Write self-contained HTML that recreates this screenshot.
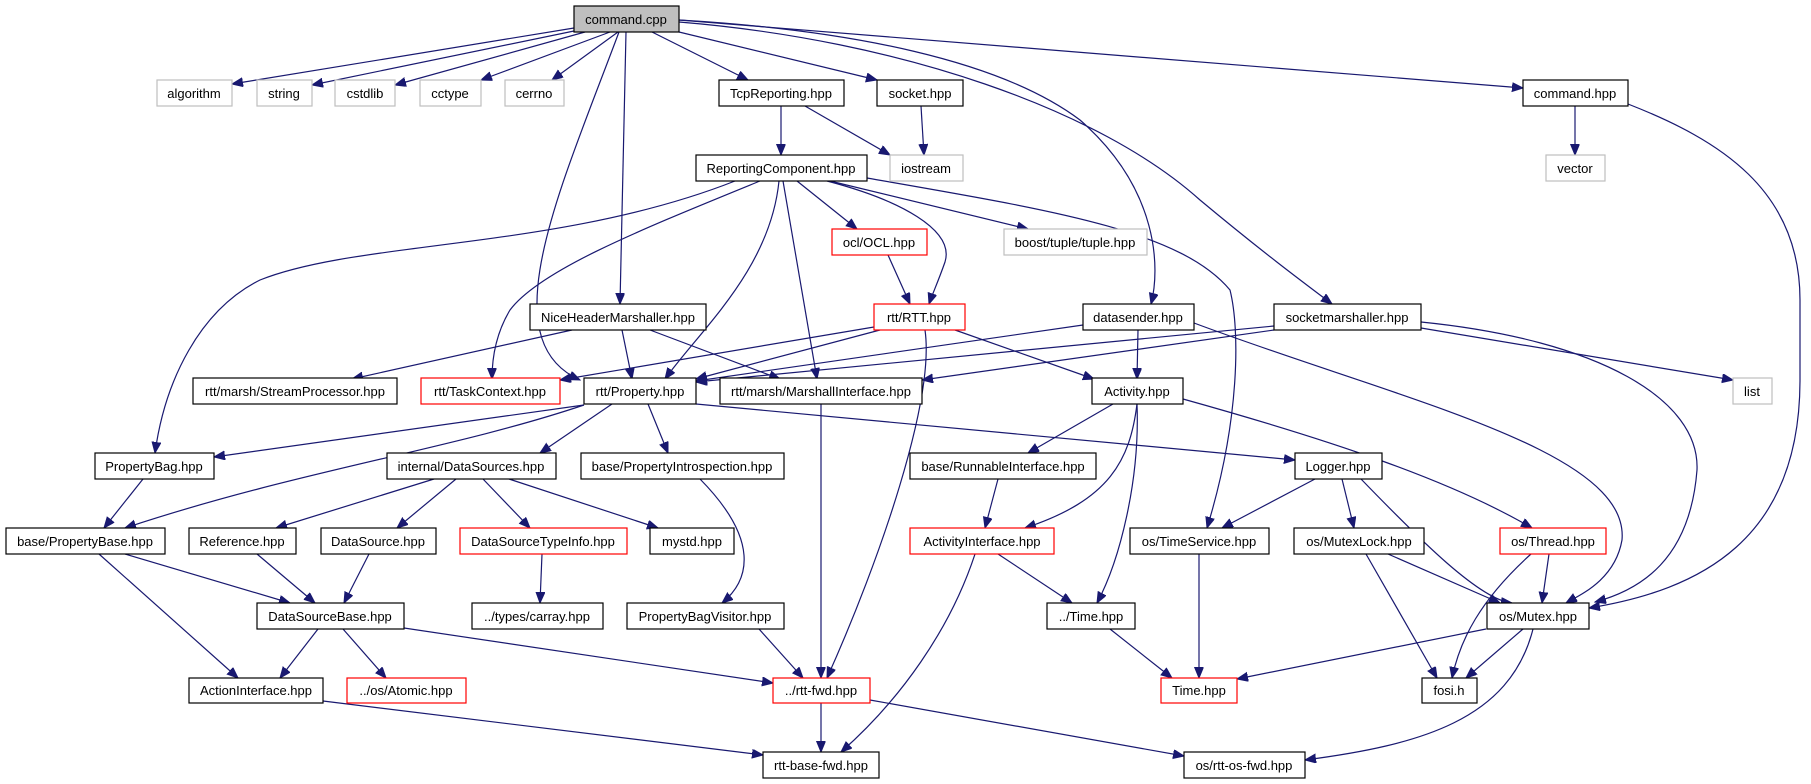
<!DOCTYPE html>
<html><head><meta charset="utf-8"><style>
html,body{margin:0;padding:0;background:#fff;}
svg{display:block;}
text{font-family:"Liberation Sans",sans-serif;font-size:13px;text-anchor:middle;fill:#000;}
.e{fill:none;stroke:#191970;stroke-width:1.2;marker-end:url(#a);}
.n{fill:#fff;stroke:#000;stroke-width:1.2;}
.g{fill:#fff;stroke:#bfbfbf;stroke-width:1.2;}
.r{fill:#fff;stroke:#ff0000;stroke-width:1.2;}
</style></head><body>
<svg width="1811" height="784" viewBox="0 0 1811 784" xmlns="http://www.w3.org/2000/svg">
<defs><marker id="a" markerUnits="userSpaceOnUse" markerWidth="12" markerHeight="10" refX="11" refY="4.5" orient="auto"><path d="M0,0 L11,4.5 L0,9 z" fill="#191970" stroke="#191970"/></marker></defs>
<g>
<path class="e" d="M574,28 L232,84"/>
<path class="e" d="M574,31 L312,85"/>
<path class="e" d="M585,32 L395,85"/>
<path class="e" d="M610,32 L481,80"/>
<path class="e" d="M618,32 L552,80"/>
<path class="e" d="M619,32 C560,190 490,340 580,380"/>
<path class="e" d="M626,32 L620,304"/>
<path class="e" d="M652,32 L748,80"/>
<path class="e" d="M679,32 L877,80"/>
<path class="e" d="M679,20 C850,30 1000,60 1080,120 C1160,190 1160,270 1151,304"/>
<path class="e" d="M679,22 C900,40 1100,110 1200,200 C1260,250 1300,280 1332,304"/>
<path class="e" d="M679,20 L1523,88"/>
<path class="e" d="M781,106 L781,155"/>
<path class="e" d="M805,106 L890,155"/>
<path class="e" d="M921,106 L924,155"/>
<path class="e" d="M1575,106 L1575,155"/>
<path class="e" d="M1628,104 C1720,140 1800,190 1800,300 L1800,380 C1800,540 1700,590 1589,608"/>
<path class="e" d="M735,181 C560,250 360,240 260,280 C200,310 165,380 155,453"/>
<path class="e" d="M760,181 C640,230 540,270 510,310 C495,335 492,360 492,379"/>
<path class="e" d="M779,181 C770,270 700,330 665,379"/>
<path class="e" d="M783,181 L817,379"/>
<path class="e" d="M797,181 L857,229"/>
<path class="e" d="M827,181 C900,200 955,230 945,262 C938,282 932,295 929,304"/>
<path class="e" d="M830,181 L1028,229"/>
<path class="e" d="M867,178 C1050,210 1180,230 1230,290 C1240,330 1240,420 1207,528"/>
<path class="e" d="M888,255 L910,304"/>
<path class="e" d="M572,330 L352,379"/>
<path class="e" d="M622,330 L632,379"/>
<path class="e" d="M650,330 L780,379"/>
<path class="e" d="M874,327 L560,380"/>
<path class="e" d="M880,330 L696,379"/>
<path class="e" d="M955,330 L1094,379"/>
<path class="e" d="M925,330 C935,400 880,560 827,678"/>
<path class="e" d="M1083,325 L696,381"/>
<path class="e" d="M1138,330 L1137,379"/>
<path class="e" d="M1194,323 C1400,400 1630,450 1622,540 C1615,580 1580,595 1566,603"/>
<path class="e" d="M1421,322 C1600,340 1700,400 1697,470 C1690,560 1640,590 1595,602"/>
<path class="e" d="M1421,328 L1733,380"/>
<path class="e" d="M1274,326 L696,382"/>
<path class="e" d="M1274,330 L922,380"/>
<path class="e" d="M1113,404 L1028,453"/>
<path class="e" d="M1137,404 C1130,460 1110,500 1025,528"/>
<path class="e" d="M1137,404 C1140,480 1120,560 1097,603"/>
<path class="e" d="M1183,399 C1330,440 1450,480 1532,528"/>
<path class="e" d="M584,405 L214,457"/>
<path class="e" d="M584,405 C450,450 300,470 125,528"/>
<path class="e" d="M612,404 L540,453"/>
<path class="e" d="M648,404 L668,453"/>
<path class="e" d="M696,404 L1295,460"/>
<path class="e" d="M821,404 L821,678"/>
<path class="e" d="M143,479 L104,528"/>
<path class="e" d="M434,479 L276,528"/>
<path class="e" d="M456,479 L397,528"/>
<path class="e" d="M483,479 L530,528"/>
<path class="e" d="M509,479 L658,528"/>
<path class="e" d="M700,479 C760,540 750,580 722,603"/>
<path class="e" d="M998,479 L985,528"/>
<path class="e" d="M1315,479 L1222,528"/>
<path class="e" d="M1342,479 L1354,528"/>
<path class="e" d="M1361,479 C1420,540 1480,600 1512,603"/>
<path class="e" d="M125,554 L290,603"/>
<path class="e" d="M99,554 L238,678"/>
<path class="e" d="M257,554 L315,603"/>
<path class="e" d="M369,554 L344,603"/>
<path class="e" d="M542,554 L540,603"/>
<path class="e" d="M998,554 L1072,603"/>
<path class="e" d="M975,554 C950,630 900,700 841,752"/>
<path class="e" d="M1199,554 L1199,678"/>
<path class="e" d="M1366,554 L1437,678"/>
<path class="e" d="M1388,554 L1500,603"/>
<path class="e" d="M1531,554 C1480,600 1460,640 1452,678"/>
<path class="e" d="M1549,554 L1542,603"/>
<path class="e" d="M318,629 L280,678"/>
<path class="e" d="M343,629 L386,678"/>
<path class="e" d="M404,628 L773,683"/>
<path class="e" d="M759,629 L803,678"/>
<path class="e" d="M1110,629 L1172,678"/>
<path class="e" d="M1486,629 L1237,679"/>
<path class="e" d="M1523,629 L1466,678"/>
<path class="e" d="M1533,629 C1510,720 1420,745 1305,760"/>
<path class="e" d="M323,701 L763,755"/>
<path class="e" d="M821,703 L821,752"/>
<path class="e" d="M870,700 L1184,756"/>
</g>
<g>
<rect x="574" y="6" width="105" height="26" fill="#bfbfbf" stroke="#000" stroke-width="1.2"/><text x="626" y="24">command.cpp</text>
<rect class="g" x="157" y="80" width="75" height="26"/><text x="194" y="98">algorithm</text>
<rect class="g" x="257" y="80" width="55" height="26"/><text x="284" y="98">string</text>
<rect class="g" x="335" y="80" width="60" height="26"/><text x="365" y="98">cstdlib</text>
<rect class="g" x="420" y="80" width="61" height="26"/><text x="450" y="98">cctype</text>
<rect class="g" x="505" y="80" width="59" height="26"/><text x="534" y="98">cerrno</text>
<rect class="n" x="719" y="80" width="125" height="26"/><text x="781" y="98">TcpReporting.hpp</text>
<rect class="n" x="877" y="80" width="86" height="26"/><text x="920" y="98">socket.hpp</text>
<rect class="n" x="1523" y="80" width="105" height="26"/><text x="1575" y="98">command.hpp</text>
<rect class="n" x="696" y="155" width="171" height="26"/><text x="781" y="173">ReportingComponent.hpp</text>
<rect class="g" x="890" y="155" width="73" height="26"/><text x="926" y="173">iostream</text>
<rect class="g" x="1546" y="155" width="59" height="26"/><text x="1575" y="173">vector</text>
<rect class="r" x="832" y="229" width="95" height="26"/><text x="879" y="247">ocl/OCL.hpp</text>
<rect class="g" x="1004" y="229" width="143" height="26"/><text x="1075" y="247">boost/tuple/tuple.hpp</text>
<rect class="n" x="530" y="304" width="176" height="26"/><text x="618" y="322">NiceHeaderMarshaller.hpp</text>
<rect class="r" x="874" y="304" width="91" height="26"/><text x="919" y="322">rtt/RTT.hpp</text>
<rect class="n" x="1083" y="304" width="111" height="26"/><text x="1138" y="322">datasender.hpp</text>
<rect class="n" x="1274" y="304" width="147" height="26"/><text x="1347" y="322">socketmarshaller.hpp</text>
<rect class="n" x="193" y="378" width="204" height="26"/><text x="295" y="396">rtt/marsh/StreamProcessor.hpp</text>
<rect class="r" x="421" y="378" width="139" height="26"/><text x="490" y="396">rtt/TaskContext.hpp</text>
<rect class="n" x="584" y="378" width="112" height="26"/><text x="640" y="396">rtt/Property.hpp</text>
<rect class="n" x="720" y="378" width="202" height="26"/><text x="821" y="396">rtt/marsh/MarshallInterface.hpp</text>
<rect class="n" x="1092" y="378" width="91" height="26"/><text x="1137" y="396">Activity.hpp</text>
<rect class="g" x="1733" y="378" width="39" height="26"/><text x="1752" y="396">list</text>
<rect class="n" x="95" y="453" width="119" height="26"/><text x="154" y="471">PropertyBag.hpp</text>
<rect class="n" x="387" y="453" width="169" height="26"/><text x="471" y="471">internal/DataSources.hpp</text>
<rect class="n" x="581" y="453" width="203" height="26"/><text x="682" y="471">base/PropertyIntrospection.hpp</text>
<rect class="n" x="910" y="453" width="186" height="26"/><text x="1003" y="471">base/RunnableInterface.hpp</text>
<rect class="n" x="1295" y="453" width="87" height="26"/><text x="1338" y="471">Logger.hpp</text>
<rect class="n" x="6" y="528" width="159" height="26"/><text x="85" y="546">base/PropertyBase.hpp</text>
<rect class="n" x="189" y="528" width="107" height="26"/><text x="242" y="546">Reference.hpp</text>
<rect class="n" x="321" y="528" width="115" height="26"/><text x="378" y="546">DataSource.hpp</text>
<rect class="r" x="460" y="528" width="167" height="26"/><text x="543" y="546">DataSourceTypeInfo.hpp</text>
<rect class="n" x="650" y="528" width="84" height="26"/><text x="692" y="546">mystd.hpp</text>
<rect class="r" x="910" y="528" width="144" height="26"/><text x="982" y="546">ActivityInterface.hpp</text>
<rect class="n" x="1130" y="528" width="139" height="26"/><text x="1199" y="546">os/TimeService.hpp</text>
<rect class="n" x="1294" y="528" width="130" height="26"/><text x="1359" y="546">os/MutexLock.hpp</text>
<rect class="r" x="1500" y="528" width="106" height="26"/><text x="1553" y="546">os/Thread.hpp</text>
<rect class="n" x="257" y="603" width="147" height="26"/><text x="330" y="621">DataSourceBase.hpp</text>
<rect class="n" x="472" y="603" width="131" height="26"/><text x="537" y="621">../types/carray.hpp</text>
<rect class="n" x="627" y="603" width="157" height="26"/><text x="705" y="621">PropertyBagVisitor.hpp</text>
<rect class="n" x="1047" y="603" width="88" height="26"/><text x="1091" y="621">../Time.hpp</text>
<rect class="n" x="1487" y="603" width="102" height="26"/><text x="1538" y="621">os/Mutex.hpp</text>
<rect class="n" x="189" y="678" width="134" height="25"/><text x="256" y="695">ActionInterface.hpp</text>
<rect class="r" x="347" y="678" width="119" height="25"/><text x="406" y="695">../os/Atomic.hpp</text>
<rect class="r" x="773" y="678" width="97" height="25"/><text x="821" y="695">../rtt-fwd.hpp</text>
<rect class="r" x="1161" y="678" width="76" height="25"/><text x="1199" y="695">Time.hpp</text>
<rect class="n" x="1422" y="678" width="55" height="25"/><text x="1449" y="695">fosi.h</text>
<rect class="n" x="763" y="752" width="116" height="26"/><text x="821" y="770">rtt-base-fwd.hpp</text>
<rect class="n" x="1184" y="752" width="121" height="26"/><text x="1244" y="770">os/rtt-os-fwd.hpp</text>
</g>
</svg>
</body></html>
